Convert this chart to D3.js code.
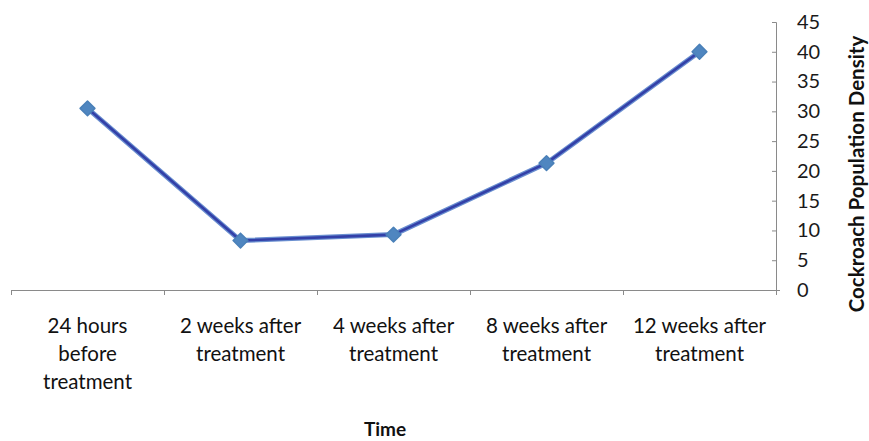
<!DOCTYPE html>
<html>
<head>
<meta charset="utf-8">
<script src="https://cdn.jsdelivr.net/npm/d3@7"></script>
<style>
  html, body { margin: 0; padding: 0; background: #fff; }
  svg { display: block; font-family: Lato, "Open Sans", sans-serif; }
</style>
</head>
<body>
<svg id="chart" width="869" height="441"></svg>
<script>
// Cockroach population density over time
const categories = [
  ["24 hours", "before", "treatment"],
  ["2 weeks after", "treatment"],
  ["4 weeks after", "treatment"],
  ["8 weeks after", "treatment"],
  ["12 weeks after", "treatment"]
];
const density = [30.5, 8.3, 9.3, 21.3, 40];
const yTicks = [0, 5, 10, 15, 20, 25, 30, 35, 40, 45];

const svg = d3.select("#chart");
const plotLeft = 11, plotRight = 776, plotTop = 22, plotBottom = 290;
const axisColor = "#8a8a8a";

const x = d3.scaleBand()
  .domain(d3.range(categories.length))
  .range([plotLeft, plotRight])
  .paddingInner(0).paddingOuter(0);

const y = d3.scaleLinear().domain([0, 45]).range([plotBottom, plotTop]);

// Right-hand value axis
const yAxis = svg.append("g")
  .attr("transform", `translate(${plotRight},0)`)
  .call(d3.axisLeft(y).tickValues(yTicks).tickSize(4).tickFormat(d => d));
yAxis.select(".domain").attr("stroke", axisColor).attr("d", `M-4,${plotTop + 0.5}H0.5V${plotBottom + 0.5}`);
yAxis.selectAll(".tick line").attr("stroke", axisColor);
yAxis.selectAll(".tick text")
  .attr("x", 21)
  .attr("text-anchor", "start")
  .attr("fill", "#1a1a1a")
  .attr("font-size", 20)
  .attr("font-family", "Lato, sans-serif");

// Category axis along the bottom
const xg = svg.append("g").attr("transform", `translate(0,${plotBottom})`);
xg.append("line")
  .attr("x1", plotLeft).attr("x2", plotRight + 4)
  .attr("y1", 0.5).attr("y2", 0.5)
  .attr("stroke", axisColor);
const boundaries = d3.range(categories.length + 1).map(i =>
  i < categories.length ? x(i) : x(categories.length - 1) + x.bandwidth());
xg.selectAll("line.tick")
  .data(boundaries)
  .join("line")
  .attr("class", "tick")
  .attr("x1", d => Math.round(d) + 0.5).attr("x2", d => Math.round(d) + 0.5)
  .attr("y1", 0).attr("y2", 5)
  .attr("stroke", axisColor);

const labels = xg.selectAll("text.cat")
  .data(categories)
  .join("text")
  .attr("class", "cat")
  .attr("text-anchor", "middle")
  .attr("font-size", 20.5)
  .attr("fill", "#111")
  .attr("transform", (d, i) => `translate(${x(i) + x.bandwidth() / 2},0)`);
labels.selectAll("tspan")
  .data(d => d)
  .join("tspan")
  .attr("x", 0)
  .attr("y", (d, i) => 43 + i * 28)
  .text(d => d);

// Data line and diamond markers
const px = i => x(i) + x.bandwidth() / 2;
const line = d3.line().x((d, i) => px(i)).y(d => y(d));

svg.append("path")
  .datum(density)
  .attr("d", line)
  .attr("fill", "none")
  .attr("stroke", "#6a8fd0")
  .attr("stroke-width", 5)
  .attr("stroke-linejoin", "round");
svg.append("path")
  .datum(density)
  .attr("d", line)
  .attr("fill", "none")
  .attr("stroke", "#3340a8")
  .attr("stroke-width", 2.6)
  .attr("stroke-linejoin", "round");

svg.selectAll("path.marker")
  .data(density)
  .join("path")
  .attr("class", "marker")
  .attr("d", d3.symbol().type(d3.symbolDiamond2).size(140))
  .attr("transform", (d, i) => `translate(${px(i)},${y(d)})`)
  .attr("fill", "#4f86c0")
  .attr("stroke", "#4a80b8")
  .attr("stroke-width", 1.5)
  .attr("stroke-linejoin", "round");

// Axis titles
svg.append("text")
  .attr("x", 385).attr("y", 436)
  .attr("text-anchor", "middle")
  .attr("font-size", 19)
  .attr("font-weight", "bold")
  .attr("fill", "#111")
  .text("Time");

svg.append("text")
  .attr("transform", `translate(864,174) rotate(-90)`)
  .attr("text-anchor", "middle")
  .attr("font-size", 20.5)
  .attr("font-weight", "bold")
  .attr("fill", "#111")
  .text("Cockroach Population Density");
</script>
</body>
</html>
